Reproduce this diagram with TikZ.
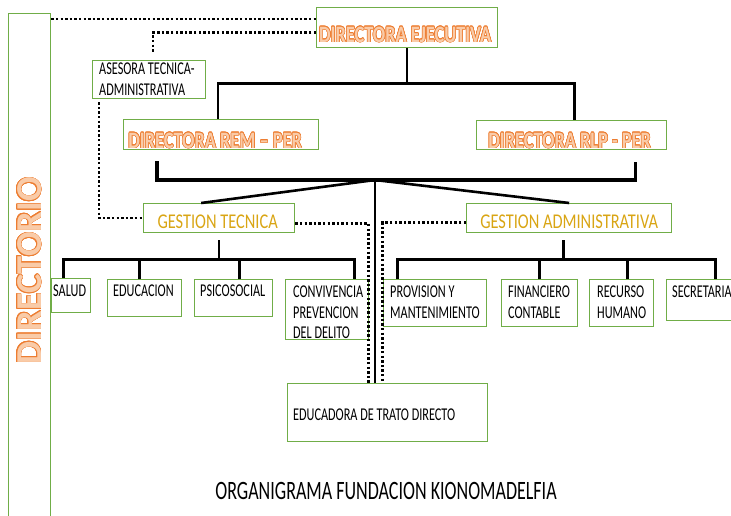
\documentclass[tikz,border=0pt]{standalone}
\usepackage{fontspec}
\setmainfont{Carlito}
\newfontfamily\condfont[FakeStretch=0.68]{Carlito}
\newfontfamily\widefont[FakeStretch=0.78]{Carlito}
\usepackage[copies]{contour}
\contourlength{0.6pt}

\definecolor{boxgreen}{HTML}{70AD47}
\definecolor{oline}{HTML}{ED7D31}
\definecolor{ofill}{HTML}{F9CBA8}
\definecolor{gold}{HTML}{D9A514}

\newcommand{\otext}[1]{\textcolor{ofill}{\contour{oline}{#1}}}

\tikzset{
  box/.style={draw=boxgreen, line width=1.3pt, anchor=north west, inner sep=0pt},
  lbl/.style={anchor=north west, inner sep=0pt, align=left, font=\condfont\fontsize{18}{20.5}\selectfont},
  head/.style={anchor=base, inner sep=0pt, font=\widefont\bfseries\fontsize{23.5}{25}\selectfont},
  gest/.style={anchor=base, inner sep=0pt, text=gold, font=\widefont\fontsize{21}{24}\selectfont},
  conn/.style={line width=2.6pt},
  bar/.style={line width=3.6pt},
  dots/.style={line width=2.4pt, dash pattern=on 2.4pt off 2.2pt},
}

\begin{document}
\begin{tikzpicture}[x=1pt, y=-1pt]
  \useasboundingbox (0,0) rectangle (731,516);

  % Directorio column
  \node[box, minimum width=42, minimum height=520,
    label={[rotate=90, xshift=3pt, inner sep=0pt, font=\bfseries\fontsize{36.5}{38}\selectfont]center:\otext{DIRECTORIO}}] (dir) at (8,13) {};

  % Directoras
  \node[box, minimum width=181, minimum height=40,
    label={[head, xshift=-2pt, yshift=6pt]south:\otext{DIRECTORA EJECUTIVA}}] (de) at (316,7) {};
  \node[box, minimum width=113, minimum height=38,
    label={[lbl, xshift=7pt, yshift=-3pt]north west:ASESORA TECNICA-\\ADMINISTRATIVA}] (ase) at (92,60) {};
  \node[box, minimum width=195, minimum height=30,
    label={[head, xshift=-6pt, yshift=2pt]south:\otext{DIRECTORA REM – PER}}] (rem) at (123,119) {};
  \node[box, minimum width=190, minimum height=29,
    label={[head, xshift=-2pt, yshift=2pt]south:\otext{DIRECTORA RLP - PER}}] (rlp) at (476,120) {};

  % Gestion
  \node[box, minimum width=151, minimum height=29,
    label={[gest, xshift=-1.5pt, yshift=5pt]south:GESTION TECNICA}] (gt) at (143,203) {};
  \node[box, minimum width=205, minimum height=29,
    label={[gest, yshift=5pt]south:GESTION ADMINISTRATIVA}] (ga) at (466,203) {};

  % Areas tecnicas
  \node[box, minimum width=39, minimum height=34,
    label={[lbl, xshift=2pt, yshift=-7pt]north west:SALUD}] (salud) at (51,278) {};
  \node[box, minimum width=74, minimum height=37,
    label={[lbl, xshift=6pt, yshift=-6pt]north west:EDUCACION}] (educ) at (107,279) {};
  \node[box, minimum width=78, minimum height=37,
    label={[lbl, xshift=6pt, yshift=-6pt]north west:PSICOSOCIAL}] (psico) at (194,279) {};
  \node[box, minimum width=83, minimum height=60,
    label={[lbl, xshift=8pt, yshift=-7pt]north west:CONVIVENCIA\\PREVENCION\\DEL DELITO}] (conv) at (285,279) {};

  % Areas administrativas
  \node[box, minimum width=103, minimum height=47,
    label={[lbl, xshift=7pt, yshift=-7pt]north west:PROVISION Y\\MANTENIMIENTO}] (prov) at (383,279) {};
  \node[box, minimum width=76, minimum height=47,
    label={[lbl, xshift=7pt, yshift=-7pt]north west:FINANCIERO\\CONTABLE}] (fin) at (501,279) {};
  \node[box, minimum width=64, minimum height=47,
    label={[lbl, xshift=8pt, yshift=-7pt]north west:RECURSO\\HUMANO}] (rec) at (589,279) {};
  \node[box, minimum width=90, minimum height=41,
    label={[lbl, xshift=6pt, yshift=-7pt]north west:SECRETARIA}] (sec) at (666,279) {};

  % Educadora
  \node[box, minimum width=200, minimum height=58,
    label={[lbl, xshift=6pt, yshift=-26pt]north west:EDUCADORA DE TRATO DIRECTO}] (edu) at (287,383) {};

  % Title
  \node[inner sep=0pt, font=\condfont\fontsize{26.5}{28}\selectfont] (title) at (386,491) {ORGANIGRAMA FUNDACION KIONOMADELFIA};

  % Solid lines, top level
  \coordinate (top) at ([yshift=-35pt]de.south);
  \draw[conn] (de.south) -- (top);
  \draw[conn] ([xshift=-3pt]rem.north) |- (top) -| ([xshift=3pt]rlp.north);

  % Thick bar and branches
  \coordinate (hub) at (375,180);
  \draw[bar] ([xshift=34pt, yshift=-11pt]rem.south west) |- (hub) -| ([xshift=-32pt, yshift=-12pt]rlp.south east);
  \draw[conn] (hub) -- ([xshift=-18pt]gt.north);
  \draw[conn] (hub) -- (ga.north);
  \draw[conn] (hub) -- (hub |- edu.north);

  % Dotted lines
  \coordinate (dtop) at ([yshift=-6pt]dir.north east);
  \draw[dots] (dtop) -- (dtop -| de.west);
  \draw[dots] ([yshift=-5pt]de.west) -| ([xshift=4pt, yshift=7pt]ase.north);
  \draw[dots] ([xshift=7pt, yshift=-3pt]ase.south west) |- (gt.west);
  \draw[dots] ([yshift=-5.5pt]gt.east) -| ([xshift=-19pt]edu.north);
  \draw[dots] ([yshift=-4.5pt]ga.west) -| ([xshift=-5pt]edu.north);

  % Gestion tecnica branches
  \coordinate (gtbar) at ([yshift=-26pt]gt.south);
  \draw[conn] ([yshift=-7pt]gt.south) -- (gtbar);
  \draw[conn] ([xshift=-7.5pt]salud.north) |- (gtbar) -| ([xshift=27.5pt]conv.north);
  \coordinate (educ-top) at ([xshift=-5pt]educ.north);
  \coordinate (psico-top) at ([xshift=6pt]psico.north);
  \draw[conn] (educ-top) -- (educ-top |- gtbar);
  \draw[conn] (psico-top) -- (psico-top |- gtbar);

  % Gestion administrativa branches
  \coordinate (gabar) at ([xshift=-5.5pt, yshift=-26pt]ga.south);
  \draw[conn] ([xshift=-5.5pt, yshift=-7pt]ga.south) -- (gabar);
  \draw[conn] ([xshift=-37.5pt]prov.north) |- (gabar) -| ([xshift=4pt]sec.north);
  \coordinate (rec-top) at ([xshift=6pt]rec.north);
  \draw[conn] (fin.north) -- (fin.north |- gabar);
  \draw[conn] (rec-top) -- (rec-top |- gabar);
\end{tikzpicture}
\end{document}
